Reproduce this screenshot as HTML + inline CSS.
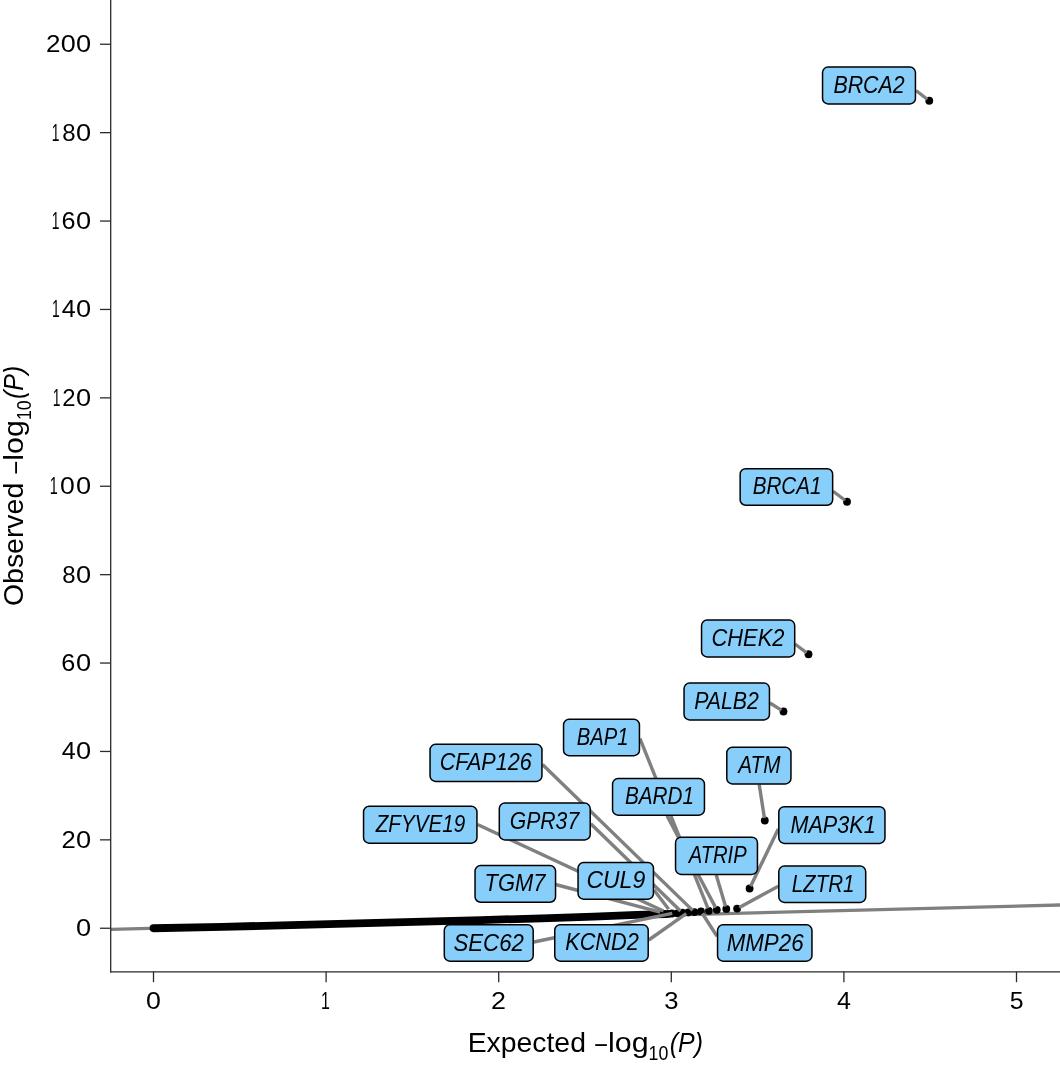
<!DOCTYPE html>
<html lang="en"><head><meta charset="utf-8"><title>QQ plot</title>
<style>html,body{margin:0;padding:0;background:#fff}svg{display:block}text{font-family:"Liberation Sans", sans-serif}</style></head><body>
<svg width="1060" height="1068" viewBox="0 0 1060 1068">
<rect width="1060" height="1068" fill="#fff"/>
<line x1="110.70" y1="929.35" x2="1060.00" y2="905.04" stroke="#808080" stroke-width="3.4"/>
<polyline points="153.50,928.25 222.54,926.78 300.21,924.94 395.14,922.46 481.44,920.05 541.85,918.30 593.63,916.58 636.78,914.97 664.50,914.20" fill="none" stroke="#000" stroke-width="7.80" stroke-linecap="round" stroke-linejoin="round"/>
<circle cx="929.25" cy="100.75" r="3.90" fill="#000"/>
<circle cx="847.00" cy="501.75" r="3.90" fill="#000"/>
<circle cx="808.50" cy="654.25" r="3.90" fill="#000"/>
<circle cx="783.50" cy="711.50" r="3.90" fill="#000"/>
<circle cx="764.80" cy="820.50" r="3.90" fill="#000"/>
<circle cx="749.60" cy="888.50" r="3.90" fill="#000"/>
<circle cx="737.10" cy="908.60" r="3.90" fill="#000"/>
<circle cx="726.30" cy="908.90" r="3.90" fill="#000"/>
<circle cx="716.80" cy="909.80" r="3.90" fill="#000"/>
<circle cx="708.90" cy="910.80" r="3.90" fill="#000"/>
<circle cx="701.00" cy="911.40" r="3.90" fill="#000"/>
<circle cx="694.40" cy="912.10" r="3.90" fill="#000"/>
<circle cx="688.30" cy="912.30" r="3.90" fill="#000"/>
<circle cx="682.30" cy="912.70" r="3.90" fill="#000"/>
<circle cx="677.40" cy="913.30" r="3.90" fill="#000"/>
<circle cx="671.80" cy="913.50" r="3.90" fill="#000"/>
<circle cx="668.00" cy="913.90" r="3.90" fill="#000"/>
<circle cx="664.50" cy="914.20" r="3.90" fill="#000"/>
<line x1="916.00" y1="90.50" x2="927.27" y2="99.22" stroke="#808080" stroke-width="3.4"/>
<line x1="833.00" y1="491.25" x2="845.00" y2="500.25" stroke="#808080" stroke-width="3.4"/>
<line x1="795.00" y1="644.00" x2="806.51" y2="652.74" stroke="#808080" stroke-width="3.4"/>
<line x1="770.00" y1="703.00" x2="781.38" y2="710.17" stroke="#808080" stroke-width="3.4"/>
<line x1="759.20" y1="784.50" x2="764.42" y2="818.03" stroke="#808080" stroke-width="3.4"/>
<line x1="778.25" y1="828.90" x2="750.68" y2="886.25" stroke="#808080" stroke-width="3.4"/>
<line x1="778.25" y1="886.25" x2="739.30" y2="907.41" stroke="#808080" stroke-width="3.4"/>
<line x1="716.25" y1="875.00" x2="725.59" y2="906.50" stroke="#808080" stroke-width="3.4"/>
<line x1="667.00" y1="815.75" x2="715.63" y2="907.59" stroke="#808080" stroke-width="3.4"/>
<line x1="640.00" y1="738.60" x2="707.97" y2="908.48" stroke="#808080" stroke-width="3.4"/>
<line x1="717.00" y1="936.25" x2="702.35" y2="913.50" stroke="#808080" stroke-width="3.4"/>
<line x1="648.75" y1="940.00" x2="686.25" y2="913.73" stroke="#808080" stroke-width="3.4"/>
<line x1="654.00" y1="890.00" x2="668.69" y2="909.31" stroke="#808080" stroke-width="3.4"/>
<line x1="542.50" y1="764.50" x2="692.61" y2="910.36" stroke="#808080" stroke-width="3.4"/>
<line x1="590.75" y1="823.75" x2="680.51" y2="910.96" stroke="#808080" stroke-width="3.4"/>
<line x1="477.50" y1="824.50" x2="663.43" y2="910.95" stroke="#808080" stroke-width="3.4"/>
<line x1="555.50" y1="884.50" x2="660.18" y2="912.16" stroke="#808080" stroke-width="3.4"/>
<line x1="533.75" y1="942.00" x2="672.25" y2="913.31" stroke="#808080" stroke-width="3.4"/>
<rect x="822.55" y="67.05" width="92.90" height="36.90" rx="5.5" ry="5.5" fill="#87CEFA" stroke="#000" stroke-width="1.50"/>
<text transform="translate(833.42 93.00) scale(0.9136 1)" font-size="23.4" font-style="italic" fill="#000">BRCA2</text>
<rect x="740.15" y="468.65" width="92.50" height="36.60" rx="5.5" ry="5.5" fill="#87CEFA" stroke="#000" stroke-width="1.50"/>
<text transform="translate(752.68 494.45) scale(0.8818 1)" font-size="23.4" font-style="italic" fill="#000">BRCA1</text>
<rect x="701.55" y="620.05" width="93.15" height="36.90" rx="5.5" ry="5.5" fill="#87CEFA" stroke="#000" stroke-width="1.50"/>
<text transform="translate(711.47 646.00) scale(0.9353 1)" font-size="23.4" font-style="italic" fill="#000">CHEK2</text>
<rect x="684.05" y="683.05" width="85.40" height="36.90" rx="5.5" ry="5.5" fill="#87CEFA" stroke="#000" stroke-width="1.50"/>
<text transform="translate(694.17 709.00) scale(0.9109 1)" font-size="23.4" font-style="italic" fill="#000">PALB2</text>
<rect x="726.80" y="747.30" width="64.15" height="36.65" rx="5.5" ry="5.5" fill="#87CEFA" stroke="#000" stroke-width="1.50"/>
<text transform="translate(738.30 773.12) scale(0.8862 1)" font-size="23.4" font-style="italic" fill="#000">ATM</text>
<rect x="778.80" y="806.65" width="106.15" height="36.80" rx="5.5" ry="5.5" fill="#87CEFA" stroke="#000" stroke-width="1.50"/>
<text transform="translate(790.41 832.55) scale(0.9247 1)" font-size="23.4" font-style="italic" fill="#000">MAP3K1</text>
<rect x="778.80" y="866.05" width="86.90" height="36.40" rx="5.5" ry="5.5" fill="#87CEFA" stroke="#000" stroke-width="1.50"/>
<text transform="translate(791.68 891.75) scale(0.8781 1)" font-size="23.4" font-style="italic" fill="#000">LZTR1</text>
<rect x="675.55" y="837.15" width="81.90" height="37.30" rx="5.5" ry="5.5" fill="#87CEFA" stroke="#000" stroke-width="1.50"/>
<text transform="translate(688.76 863.30) scale(0.8626 1)" font-size="23.4" font-style="italic" fill="#000">ATRIP</text>
<rect x="612.55" y="778.55" width="91.90" height="36.65" rx="5.5" ry="5.5" fill="#87CEFA" stroke="#000" stroke-width="1.50"/>
<text transform="translate(624.98 804.38) scale(0.8857 1)" font-size="23.4" font-style="italic" fill="#000">BARD1</text>
<rect x="563.55" y="719.30" width="75.90" height="36.40" rx="5.5" ry="5.5" fill="#87CEFA" stroke="#000" stroke-width="1.50"/>
<text transform="translate(576.68 745.00) scale(0.8652 1)" font-size="23.4" font-style="italic" fill="#000">BAP1</text>
<rect x="717.55" y="924.80" width="94.40" height="36.40" rx="5.5" ry="5.5" fill="#87CEFA" stroke="#000" stroke-width="1.50"/>
<text transform="translate(726.65 950.50) scale(0.9546 1)" font-size="23.4" font-style="italic" fill="#000">MMP26</text>
<rect x="554.75" y="924.65" width="93.45" height="36.55" rx="5.5" ry="5.5" fill="#87CEFA" stroke="#000" stroke-width="1.50"/>
<text transform="translate(565.16 950.42) scale(0.9303 1)" font-size="23.4" font-style="italic" fill="#000">KCND2</text>
<rect x="578.05" y="862.55" width="75.40" height="36.60" rx="5.5" ry="5.5" fill="#87CEFA" stroke="#000" stroke-width="1.50"/>
<text transform="translate(586.42 888.35) scale(0.9827 1)" font-size="23.4" font-style="italic" fill="#000">CUL9</text>
<rect x="430.05" y="744.30" width="111.90" height="37.15" rx="5.5" ry="5.5" fill="#87CEFA" stroke="#000" stroke-width="1.50"/>
<text transform="translate(439.74 770.38) scale(0.9239 1)" font-size="23.4" font-style="italic" fill="#000">CFAP126</text>
<rect x="499.30" y="803.05" width="90.90" height="36.90" rx="5.5" ry="5.5" fill="#87CEFA" stroke="#000" stroke-width="1.50"/>
<text transform="translate(509.76 829.00) scale(0.9050 1)" font-size="23.4" font-style="italic" fill="#000">GPR37</text>
<rect x="363.55" y="806.30" width="113.40" height="36.90" rx="5.5" ry="5.5" fill="#87CEFA" stroke="#000" stroke-width="1.50"/>
<text transform="translate(375.65 832.25) scale(0.8828 1)" font-size="23.4" font-style="italic" fill="#000">ZFYVE19</text>
<rect x="475.05" y="865.55" width="80.50" height="36.70" rx="5.5" ry="5.5" fill="#87CEFA" stroke="#000" stroke-width="1.50"/>
<text transform="translate(484.54 891.40) scale(0.9367 1)" font-size="23.4" font-style="italic" fill="#000">TGM7</text>
<rect x="444.30" y="924.80" width="88.90" height="36.40" rx="5.5" ry="5.5" fill="#87CEFA" stroke="#000" stroke-width="1.50"/>
<text transform="translate(453.40 950.50) scale(0.9516 1)" font-size="23.4" font-style="italic" fill="#000">SEC62</text>
<line x1="110.70" y1="0" x2="110.70" y2="972.45" stroke="#2b2b2b" stroke-width="1.3"/>
<line x1="110.05" y1="971.80" x2="1060" y2="971.80" stroke="#2b2b2b" stroke-width="1.3"/>
<line x1="100" y1="928.25" x2="110.70" y2="928.25" stroke="#2b2b2b" stroke-width="1.3"/>
<text y="936.15" font-size="24.2" fill="#000000"><tspan x="75.95" textLength="15.13" lengthAdjust="spacingAndGlyphs" font-size="24.2">0</tspan></text>
<line x1="100" y1="839.85" x2="110.70" y2="839.85" stroke="#2b2b2b" stroke-width="1.3"/>
<text y="847.75" font-size="24.2" fill="#000000"><tspan x="61.40" textLength="14.24" lengthAdjust="spacingAndGlyphs" font-size="24.2">2</tspan><tspan x="75.95" textLength="15.13" lengthAdjust="spacingAndGlyphs" font-size="24.2">0</tspan></text>
<line x1="100" y1="751.45" x2="110.70" y2="751.45" stroke="#2b2b2b" stroke-width="1.3"/>
<text y="759.35" font-size="24.2" fill="#000000"><tspan x="61.71" textLength="13.91" lengthAdjust="spacingAndGlyphs" font-size="24.2">4</tspan><tspan x="75.95" textLength="15.13" lengthAdjust="spacingAndGlyphs" font-size="24.2">0</tspan></text>
<line x1="100" y1="663.05" x2="110.70" y2="663.05" stroke="#2b2b2b" stroke-width="1.3"/>
<text y="670.95" font-size="24.2" fill="#000000"><tspan x="61.32" textLength="14.00" lengthAdjust="spacingAndGlyphs" font-size="24.2">6</tspan><tspan x="75.95" textLength="15.13" lengthAdjust="spacingAndGlyphs" font-size="24.2">0</tspan></text>
<line x1="100" y1="574.65" x2="110.70" y2="574.65" stroke="#2b2b2b" stroke-width="1.3"/>
<text y="582.55" font-size="24.2" fill="#000000"><tspan x="62.15" textLength="13.32" lengthAdjust="spacingAndGlyphs" font-size="24.2">8</tspan><tspan x="75.95" textLength="15.13" lengthAdjust="spacingAndGlyphs" font-size="24.2">0</tspan></text>
<line x1="100" y1="486.25" x2="110.70" y2="486.25" stroke="#2b2b2b" stroke-width="1.3"/>
<text y="494.15" font-size="24.2" fill="#000000"><tspan x="49.85" textLength="8.04" lengthAdjust="spacingAndGlyphs" font-size="24.2">1</tspan><tspan x="60.07" textLength="14.79" lengthAdjust="spacingAndGlyphs" font-size="24.2">0</tspan><tspan x="75.95" textLength="15.13" lengthAdjust="spacingAndGlyphs" font-size="24.2">0</tspan></text>
<line x1="100" y1="397.85" x2="110.70" y2="397.85" stroke="#2b2b2b" stroke-width="1.3"/>
<text y="405.75" font-size="24.2" fill="#000000"><tspan x="52.73" textLength="7.73" lengthAdjust="spacingAndGlyphs" font-size="24.2">1</tspan><tspan x="62.28" textLength="13.29" lengthAdjust="spacingAndGlyphs" font-size="24.2">2</tspan><tspan x="75.95" textLength="15.13" lengthAdjust="spacingAndGlyphs" font-size="24.2">0</tspan></text>
<line x1="100" y1="309.45" x2="110.70" y2="309.45" stroke="#2b2b2b" stroke-width="1.3"/>
<text y="317.35" font-size="24.2" fill="#000000"><tspan x="52.03" textLength="7.73" lengthAdjust="spacingAndGlyphs" font-size="24.2">1</tspan><tspan x="61.71" textLength="13.91" lengthAdjust="spacingAndGlyphs" font-size="24.2">4</tspan><tspan x="75.95" textLength="15.13" lengthAdjust="spacingAndGlyphs" font-size="24.2">0</tspan></text>
<line x1="100" y1="221.05" x2="110.70" y2="221.05" stroke="#2b2b2b" stroke-width="1.3"/>
<text y="228.95" font-size="24.2" fill="#000000"><tspan x="51.83" textLength="7.73" lengthAdjust="spacingAndGlyphs" font-size="24.2">1</tspan><tspan x="61.52" textLength="14.00" lengthAdjust="spacingAndGlyphs" font-size="24.2">6</tspan><tspan x="75.95" textLength="15.13" lengthAdjust="spacingAndGlyphs" font-size="24.2">0</tspan></text>
<line x1="100" y1="132.65" x2="110.70" y2="132.65" stroke="#2b2b2b" stroke-width="1.3"/>
<text y="140.55" font-size="24.2" fill="#000000"><tspan x="51.83" textLength="7.73" lengthAdjust="spacingAndGlyphs" font-size="24.2">1</tspan><tspan x="62.15" textLength="13.32" lengthAdjust="spacingAndGlyphs" font-size="24.2">8</tspan><tspan x="75.95" textLength="15.13" lengthAdjust="spacingAndGlyphs" font-size="24.2">0</tspan></text>
<line x1="100" y1="44.25" x2="110.70" y2="44.25" stroke="#2b2b2b" stroke-width="1.3"/>
<text y="52.15" font-size="24.2" fill="#000000"><tspan x="46.08" textLength="14.47" lengthAdjust="spacingAndGlyphs" font-size="24.2">2</tspan><tspan x="60.76" textLength="15.02" lengthAdjust="spacingAndGlyphs" font-size="24.2">0</tspan><tspan x="75.95" textLength="15.13" lengthAdjust="spacingAndGlyphs" font-size="24.2">0</tspan></text>
<line x1="153.50" y1="971.80" x2="153.50" y2="982.2" stroke="#2b2b2b" stroke-width="1.3"/>
<text y="1009.2" font-size="24.2" fill="#000000"><tspan x="145.96" textLength="14.90" lengthAdjust="spacingAndGlyphs" font-size="24.2">0</tspan></text>
<line x1="326.10" y1="971.80" x2="326.10" y2="982.2" stroke="#2b2b2b" stroke-width="1.3"/>
<text y="1009.2" font-size="24.2" fill="#000000"><tspan x="320.91" textLength="8.84" lengthAdjust="spacingAndGlyphs" font-size="24.2">1</tspan></text>
<line x1="498.70" y1="971.80" x2="498.70" y2="982.2" stroke="#2b2b2b" stroke-width="1.3"/>
<text y="1009.2" font-size="24.2" fill="#000000"><tspan x="491.14" textLength="14.95" lengthAdjust="spacingAndGlyphs" font-size="24.2">2</tspan></text>
<line x1="671.30" y1="971.80" x2="671.30" y2="982.2" stroke="#2b2b2b" stroke-width="1.3"/>
<text y="1009.2" font-size="24.2" fill="#000000"><tspan x="664.30" textLength="14.24" lengthAdjust="spacingAndGlyphs" font-size="24.2">3</tspan></text>
<line x1="843.90" y1="971.80" x2="843.90" y2="982.2" stroke="#2b2b2b" stroke-width="1.3"/>
<text y="1009.2" font-size="24.2" fill="#000000"><tspan x="837.06" textLength="13.91" lengthAdjust="spacingAndGlyphs" font-size="24.2">4</tspan></text>
<line x1="1016.50" y1="971.80" x2="1016.50" y2="982.2" stroke="#2b2b2b" stroke-width="1.3"/>
<text y="1009.2" font-size="24.2" fill="#000000"><tspan x="1009.73" textLength="13.78" lengthAdjust="spacingAndGlyphs" font-size="24.2">5</tspan></text>
<text y="1052.2" font-size="27.2" fill="#000000"><tspan x="467.69" textLength="118.21" lengthAdjust="spacingAndGlyphs" font-size="27.2">Expected</tspan> <tspan x="595.20" textLength="11.67" lengthAdjust="spacingAndGlyphs" font-size="27.2">–</tspan><tspan x="608.00" textLength="40.61" lengthAdjust="spacingAndGlyphs" font-size="27.2">log</tspan><tspan x="648.59" textLength="19.75" lengthAdjust="spacingAndGlyphs" dy="8.00" font-size="19.7">10</tspan><tspan x="669.73" textLength="33.26" lengthAdjust="spacingAndGlyphs" dy="-8.00" font-size="27.2" font-style="italic">(P)</tspan></text>
<text transform="translate(23.0 604.7) rotate(-90)" font-size="27.2" fill="#000000"><tspan x="-1.33" textLength="123.23" lengthAdjust="spacingAndGlyphs" font-size="27.2">Observed</tspan> <tspan x="131.20" textLength="11.67" lengthAdjust="spacingAndGlyphs" font-size="27.2">–</tspan><tspan x="144.00" textLength="40.61" lengthAdjust="spacingAndGlyphs" font-size="27.2">log</tspan><tspan x="184.59" textLength="19.75" lengthAdjust="spacingAndGlyphs" dy="8.00" font-size="19.7">10</tspan><tspan x="205.73" textLength="33.26" lengthAdjust="spacingAndGlyphs" dy="-8.00" font-size="27.2" font-style="italic">(P)</tspan></text>
</svg></body></html>
